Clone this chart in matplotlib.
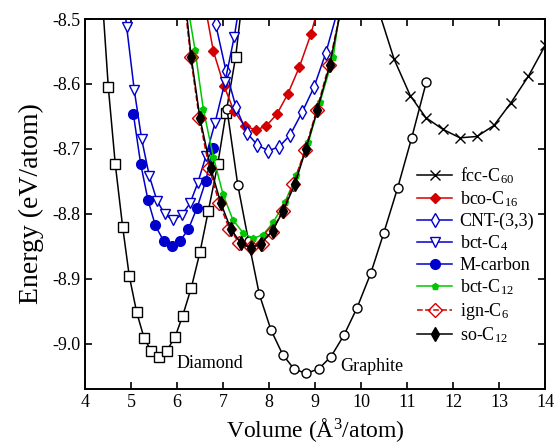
import matplotlib
matplotlib.use("Agg")
import matplotlib.pyplot as plt

plt.rcParams['font.family'] = ['Liberation Serif', 'DejaVu Serif']
plt.rcParams['mathtext.fontset'] = 'custom'
plt.rcParams['mathtext.rm'] = 'Liberation Serif'
plt.rcParams['mathtext.it'] = 'Liberation Serif:italic'
plt.rcParams['axes.unicode_minus'] = False

# data (volume in A^3/atom, energy in eV/atom)
dia_v = [4.35, 4.507, 4.659, 4.820, 4.963, 5.124, 5.283, 5.441, 5.609, 5.776, 5.957,
         6.124, 6.311, 6.500, 6.680, 6.885, 7.065, 7.276, 7.47]
dia_e = [-8.44, -8.605, -8.724, -8.821, -8.896, -8.952, -8.991, -9.012, -9.020, -9.011, -8.990,
         -8.957, -8.914, -8.859, -8.796, -8.724, -8.645, -8.558, -8.44]

gr_v = [7.087, 7.320, 7.555, 7.789, 8.043, 8.298, 8.543, 8.804, 9.080, 9.348, 9.630,
        9.913, 10.211, 10.493, 10.797, 11.102, 11.420]
gr_e = [-8.639, -8.755, -8.842, -8.924, -8.979, -9.017, -9.039, -9.046, -9.039, -9.020, -8.987,
        -8.945, -8.892, -8.830, -8.760, -8.683, -8.597]

fcc_v = [10.37, 10.72, 11.07, 11.41, 11.78, 12.15, 12.52, 12.89, 13.26, 13.64, 14.01]
fcc_e = [-8.484, -8.562, -8.618, -8.652, -8.670, -8.683, -8.681, -8.664, -8.629, -8.588, -8.540]

bco_v = [6.56, 6.789, 7.022, 7.239, 7.478, 7.717, 7.935, 8.167, 8.406, 8.659, 8.913, 9.15]
bco_e = [-8.46, -8.549, -8.603, -8.642, -8.665, -8.671, -8.665, -8.647, -8.616, -8.574, -8.523, -8.46]

cnt_v = [6.60, 6.841, 7.065, 7.283, 7.514, 7.746, 7.986, 8.217, 8.457, 8.725, 8.978, 9.232, 9.50]
cnt_e = [-8.40, -8.508, -8.580, -8.636, -8.675, -8.694, -8.703, -8.697, -8.679, -8.643, -8.605, -8.553, -8.485]

c4_v = [4.73, 4.906, 5.072, 5.232, 5.399, 5.565, 5.739, 5.913, 6.101, 6.283, 6.449, 6.63,
        6.826, 7.043, 7.246, 7.42]
c4_e = [-8.39, -8.512, -8.610, -8.685, -8.742, -8.780, -8.801, -8.810, -8.802, -8.784, -8.753, -8.711,
        -8.660, -8.597, -8.527, -8.45]

mc_v = [5.051, 5.210, 5.370, 5.529, 5.710, 5.884, 6.065, 6.246, 6.435, 6.623, 6.790]
mc_e = [-8.646, -8.723, -8.779, -8.818, -8.842, -8.849, -8.842, -8.824, -8.791, -8.750, -8.698]

c12_v = [6.20, 6.391, 6.572, 6.789, 7.000, 7.213, 7.442, 7.659, 7.876, 8.093, 8.348, 8.595,
         8.855, 9.109, 9.398, 9.65]
c12_e = [-8.466, -8.547, -8.639, -8.712, -8.770, -8.809, -8.830, -8.838, -8.832, -8.813, -8.782, -8.741,
         -8.690, -8.628, -8.558, -8.43]

ign_v = [6.08, 6.298, 6.485, 6.702, 6.920, 7.137, 7.354, 7.609, 7.841, 8.058, 8.298, 8.529,
         8.783, 9.037, 9.304, 9.58]
ign_e = [-8.42, -8.559, -8.653, -8.730, -8.784, -8.823, -8.845, -8.851, -8.846, -8.828, -8.795, -8.754,
         -8.702, -8.640, -8.571, -8.48]

so_v = [6.10, 6.31, 6.50, 6.733, 6.950, 7.167, 7.384, 7.602, 7.826, 8.080, 8.311, 8.565,
        8.80, 9.05, 9.32, 9.58]
so_e = [-8.42, -8.559, -8.653, -8.730, -8.783, -8.823, -8.845, -8.853, -8.846, -8.826, -8.795, -8.754,
        -8.701, -8.640, -8.571, -8.48]

red = '#d40000'
blue = '#0000cc'
green = '#00c800'

fig = plt.figure(figsize=(5.54, 4.45), dpi=100)
ax = fig.add_subplot(111)
fig.subplots_adjust(left=0.1534, right=0.9838, bottom=0.1258, top=0.9573)

lw = 1.1
# curves without legend entry
ax.plot(dia_v, dia_e, 'k-', lw=lw, marker='s', ms=6.5, mfc='white', mec='k', mew=1.0)
ax.plot(gr_v, gr_e, 'k-', lw=lw, marker='o', ms=6.5, mfc='white', mec='k', mew=1.0)

ax.plot(fcc_v, fcc_e, 'k-', lw=lw, marker='x', ms=7, mew=1.0, label='fcc-C$_{60}$')
ax.plot(bco_v, bco_e, '-', color=red, lw=lw, marker='D', ms=5.5, mfc=red, mec=red, label='bco-C$_{16}$')
ax.plot(cnt_v, cnt_e, '-', color=blue, lw=lw, marker='d', ms=7, mfc='white', mec=blue, mew=1.0,
        label='CNT-(3,3)')
ax.plot(c4_v, c4_e, '-', color=blue, lw=lw, marker='v', ms=6.5, mfc='white', mec=blue, mew=1.0,
        label='bct-C$_4$')
ax.plot(mc_v, mc_e, '-', color=blue, lw=lw, marker='o', ms=7, mfc=blue, mec=blue, label='M-carbon')
ax.plot(c12_v, c12_e, '-', color=green, lw=lw, marker='p', ms=4.5, mfc=green, mec=green,
        label='bct-C$_{12}$')
ax.plot(ign_v, ign_e, '--', color=red, lw=lw, marker='D', ms=7.5, mfc='none', mec=red, mew=1.0,
        label='ign-C$_6$')
ax.plot(so_v, so_e, 'k-', lw=lw, marker='d', ms=7, mfc='k', mec='k', label='so-C$_{12}$')

ax.text(6.717, -9.031, 'Diamond', ha='center', va='center', fontsize=13)
ax.text(10.228, -9.0355, 'Graphite', ha='center', va='center', fontsize=13)

ax.set_xlim(4, 14)
ax.set_ylim(-9.07, -8.5)
ax.set_xticks(range(4, 15))
ax.set_yticks([-9.0, -8.9, -8.8, -8.7, -8.6, -8.5])
ax.set_yticklabels(['%.1f' % t for t in [-9.0, -8.9, -8.8, -8.7, -8.6, -8.5]])
ax.tick_params(direction='in', length=5, width=1.2, top=True, right=True, labelsize=13)
for s in ax.spines.values():
    s.set_linewidth(1.4)

ax.set_xlabel('Volume (Å$^{3}$/atom)', fontsize=17)
ax.set_ylabel('Energy (eV/atom)', fontsize=20, labelpad=6)

ax.legend(loc='upper left', bbox_to_anchor=(0.722, 0.605), frameon=False, fontsize=13,
          borderaxespad=0, borderpad=0, handlelength=1.95, handletextpad=0.4, labelspacing=0.2)

plt.savefig('out.png', dpi=100)
